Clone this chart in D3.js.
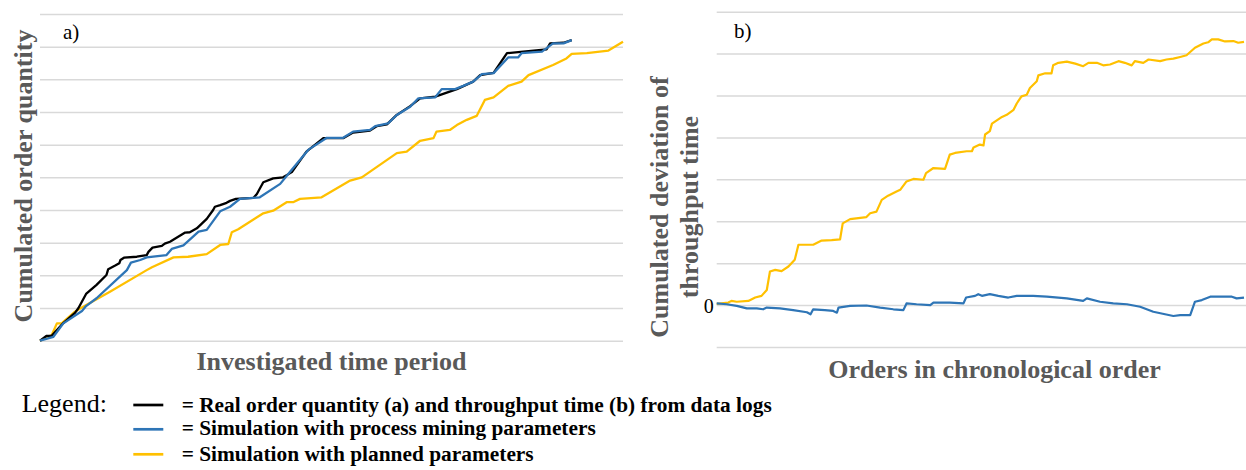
<!DOCTYPE html>
<html>
<head>
<meta charset="utf-8">
<script src="https://cdn.jsdelivr.net/npm/d3@7"></script>
<style>
  body { margin: 0; background: #fff; }
  svg { display: block; font-family: "Liberation Serif", "Times New Roman", serif; }
  .grid line { stroke: #d9d9d9; stroke-width: 1.5px; }
  .grid .domain { display: none; }
  .title { fill: #595959; font-weight: bold; font-size: 26px; }
</style>
</head>
<body>
<div class="chart"></div>
<script>
// panel a) cumulated order quantity, x = time period (0-100), y = quantity (0-100)
const realQtyA = [[0,0],[1.15,1.5],[2,1.5],[2.9,3.3],[4,5.4],[6,8.5],[6.6,10],[7.9,14.3],[9.7,17.1],[11.4,20.1],
  [11.7,21.9],[12.9,23],[13.6,23.7],[13.8,24.7],[14.4,25.4],[16.6,25.7],[18.3,26.2],[18.6,27.2],[19.3,28.5],
  [20.9,29],[21.4,29.7],[22.3,30.3],[23.7,31.8],[24.9,33.1],[25.7,33.2],[26.9,34.4],[28.6,37.3],[29.7,40],
  [30,41],[30.9,41.5],[32,42.2],[32.6,42.8],[33.6,43.4],[36.6,43.7],[37.2,44.9],[38.3,48.5],[40,49.7],
  [41.7,50],[43.2,51.6],[45.7,57.9],[48.6,62],[52,62],[53.7,63.7],[56.6,64.3],[57.8,65.7],[59.5,66.2],
  [61.2,69.1],[63.5,71.8],[65.2,74.2],[67.8,74.7],[71.5,77],[74.3,79.3],[75.5,81.3],[77.8,82],[80.1,88],
  [82.9,88.5],[86.9,89.2],[87.5,91],[89.8,91.2],[91.2,92]];
const simMiningA = [[0,0],[2.3,1.2],[4,5.3],[7.2,9.1],[7.9,10.6],[9.7,13],[14.9,21.6],[15.6,23.9],[17.2,24.7],
  [18.3,25.5],[21.7,26.2],[22.6,28.1],[24.6,29.2],[27.2,33.4],[28.6,33.9],[30.9,39.6],[32.6,41],[34.3,43.4],
  [37.7,43.9],[41.2,48],[42.9,51.7],[46,58.4],[49.2,62.1],[52,62.1],[53.7,64],[56.6,64.5],[57.5,65.7],
  [59.7,66.5],[61.2,69.1],[63.5,71.6],[64.9,74.2],[67.8,74.5],[68.9,77],[71.2,77],[72.6,78],[74.3,79.3],
  [75.8,81.6],[77.8,81.9],[80.3,86.7],[82,86.7],[82.6,88],[86.1,88.5],[88,91],[89.8,91],[91.2,92]];
const simPlannedA = [[0,0],[2,1.7],[2.9,5.3],[3.7,5.3],[6,8.9],[7.4,10.4],[9.7,12.7],[12,15],[18.3,21.6],
  [19.2,22.5],[22.9,25.5],[25.4,25.7],[28.6,26.5],[30.9,29.3],[32.3,29.6],[32.9,33.2],[34,34.1],[38.3,39],
  [40,39.8],[42.3,42.4],[43.4,42.4],[44.6,43.4],[48.3,43.9],[53.2,49],[55.2,50],[61.2,57.4],[62.9,57.9],
  [65.2,61.2],[67.5,62],[68,64],[70.3,64.5],[71.5,66],[73.2,67.6],[74.9,68.8],[76.3,73.7],[77.8,74.5],
  [80.3,78],[82.6,79.3],[83.8,81.3],[88,84.4],[90.3,86.4],[91.2,87.8],[93.8,88],[97.5,88.8],[100,91.5]];

// panel b) cumulated deviation of throughput time, x = order index (0-100)
const simMiningB = [[0,4],[1.9,2],[3.8,-2],[5.7,-8],[7.6,-8],[8.8,-10],[9.5,-6],[12,-8],[14.5,-12],[17.1,-17],
  [17.8,-22],[18.3,-10],[20.5,-12],[22.1,-14],[22.8,-18],[23.1,-6],[25.3,-2],[28.4,-1],[31,-6],[33.5,-10],
  [35.4,-12],[36,4],[37.9,2],[40.5,0],[41.1,6],[44.2,6],[46.8,4],[47.3,18],[49,22],[49.6,26],[50.3,22],
  [51.8,26],[53.4,22],[55.3,18],[56.9,22],[60,22],[62.6,20],[66.4,16],[69.5,10],[70.2,16],[72.7,8],
  [75.2,4],[77.8,2],[80.3,-4],[82.8,-16],[86.6,-26],[87.9,-24],[89.8,-24],[90.7,8],[92,12],[93.6,20],
  [96.1,20],[97.7,20],[98.6,16],[100,18]];
const simPlannedB = [[0,3],[2.2,6],[2.8,10],[3.8,8],[6,10],[7.3,18],[8.5,22],[9.5,36],[10.1,80],[11.1,84],
  [12.3,81],[13.6,92],[14.8,108],[15.5,144],[18.3,144],[19.9,154],[21.8,155],[23.4,157],[23.9,195],[25.3,205],
  [28.4,210],[29.1,219],[30.3,223],[31.3,251],[32.5,261],[34.1,271],[34.8,275],[36,295],[37.3,301],[39.2,299],
  [39.7,315],[41.1,327],[43.3,325],[44.2,359],[45.2,363],[47.4,367],[48.4,367],[48.7,376],[49.9,383],
  [50.6,381],[50.9,407],[51.8,415],[52.2,433],[53.4,443],[54.1,449],[55,454],[56.3,466],[56.9,481],
  [57.8,498],[58.8,502],[59.4,518],[60.7,534],[61,548],[62.3,553],[63.5,553],[63.8,572],[64.8,578],
  [66.4,581],[68,576],[69.5,570],[70.5,578],[72.1,578],[73.3,572],[74.6,574],[76.2,582],[77.4,578],
  [78.7,572],[79.3,582],[80.9,578],[81.9,586],[84.1,582],[85.3,586],[86.6,588],[87.9,592],[89.1,596],
  [90.7,614],[92.3,624],[93.2,627],[93.9,634],[95.1,634],[96.4,629],[98,630],[98.9,626],[100,628]];

const ticksA = [0,10,20,30,40,50,60,70,80,90,100];
const ticksB = [-100,0,100,200,300,400,500,600,700];

const legendItems = [
  {label: '= Real order quantity (a) and throughput time (b) from data logs', color: '#000000'},
  {label: '= Simulation with process mining parameters', color: '#2e75b6'},
  {label: '= Simulation with planned parameters', color: '#ffc000'}
];

const width = 1246, height = 470;
const svg = d3.select('.chart').append('svg')
  .attr('width', width)
  .attr('height', height);

// ---------- panel a ----------
const xA = d3.scaleLinear().domain([0, 100]).range([40, 623]);
const yA = d3.scaleLinear().domain([0, 100]).range([340.7, 14]);

svg.append('g')
  .attr('class', 'grid')
  .attr('transform', `translate(${xA(0)},0)`)
  .call(d3.axisLeft(yA).tickValues(ticksA).tickSize(-(xA(100) - xA(0))).tickFormat(''))
  .call(g => g.selectAll('text').remove());

const lineA = d3.line().x(d => xA(d[0])).y(d => yA(d[1]));
[[simPlannedA, '#ffc000'], [realQtyA, '#000000'], [simMiningA, '#2e75b6']].forEach(([data, color]) => {
  svg.append('path')
    .datum(data)
    .attr('d', lineA)
    .attr('fill', 'none')
    .attr('stroke', color)
    .attr('stroke-width', 2.3)
    .attr('stroke-linejoin', 'round');
});

svg.append('text').attr('x', 63).attr('y', 39).attr('font-size', 21).text('a)');

svg.append('text')
  .attr('class', 'title')
  .attr('transform', 'translate(32,176) rotate(-90)')
  .attr('text-anchor', 'middle')
  .text('Cumulated order quantity');

svg.append('text')
  .attr('class', 'title')
  .attr('x', (xA(0) + xA(100)) / 2)
  .attr('y', 370)
  .attr('text-anchor', 'middle')
  .text('Investigated time period');

// ---------- panel b ----------
const xB = d3.scaleLinear().domain([0, 100]).range([716.7, 1244]);
const yB = d3.scaleLinear().domain([-100, 700]).range([347, 11.7]);

svg.append('g')
  .attr('class', 'grid')
  .attr('transform', `translate(${xB(0)},0)`)
  .call(d3.axisLeft(yB).tickValues(ticksB).tickSize(-(width - xB(0))).tickPadding(3)
    .tickFormat(d => d === 0 ? '0' : ''))
  .call(g => g.selectAll('text')
    .attr('fill', '#000')
    .attr('font-size', 20)
    .attr('font-family', '"Liberation Serif", serif')
    .attr('dy', '0.36em'));

const lineB = d3.line().x(d => xB(d[0])).y(d => yB(d[1]));
[[simPlannedB, '#ffc000'], [simMiningB, '#2e75b6']].forEach(([data, color]) => {
  svg.append('path')
    .datum(data)
    .attr('d', lineB)
    .attr('fill', 'none')
    .attr('stroke', color)
    .attr('stroke-width', 2.2)
    .attr('stroke-linejoin', 'round');
});

svg.append('text').attr('x', 734).attr('y', 38).attr('font-size', 21).text('b)');

const titleB = svg.append('text')
  .attr('class', 'title')
  .attr('transform', 'translate(668,207) rotate(-90)')
  .attr('text-anchor', 'middle');
titleB.append('tspan').attr('x', 0).attr('dy', 0).text('Cumulated deviation of');
titleB.append('tspan').attr('x', 0).attr('dy', 29.5).text('throughput time');

svg.append('text')
  .attr('class', 'title')
  .attr('x', 994.5)
  .attr('y', 378)
  .attr('text-anchor', 'middle')
  .text('Orders in chronological order');

// ---------- legend ----------
svg.append('text')
  .attr('x', 21.7)
  .attr('y', 412.3)
  .attr('font-size', 26)
  .text('Legend:');

const legendLineY = [405, 429.3, 454.3];
const legendTextY = [411.5, 435, 461];
const legendWidths = [590, 414, 352];

const legendRows = svg.append('g').selectAll('g')
  .data(legendItems)
  .join('g');

legendRows.append('line')
  .attr('x1', 133.3).attr('x2', 163.3)
  .attr('y1', (d, i) => legendLineY[i]).attr('y2', (d, i) => legendLineY[i])
  .attr('stroke', d => d.color)
  .attr('stroke-width', 2.7);

legendRows.append('text')
  .attr('x', 181.7)
  .attr('y', (d, i) => legendTextY[i])
  .attr('font-size', 21.3)
  .attr('font-weight', 'bold')
  .attr('textLength', (d, i) => legendWidths[i])
  .attr('lengthAdjust', 'spacingAndGlyphs')
  .text(d => d.label);
</script>
</body>
</html>
